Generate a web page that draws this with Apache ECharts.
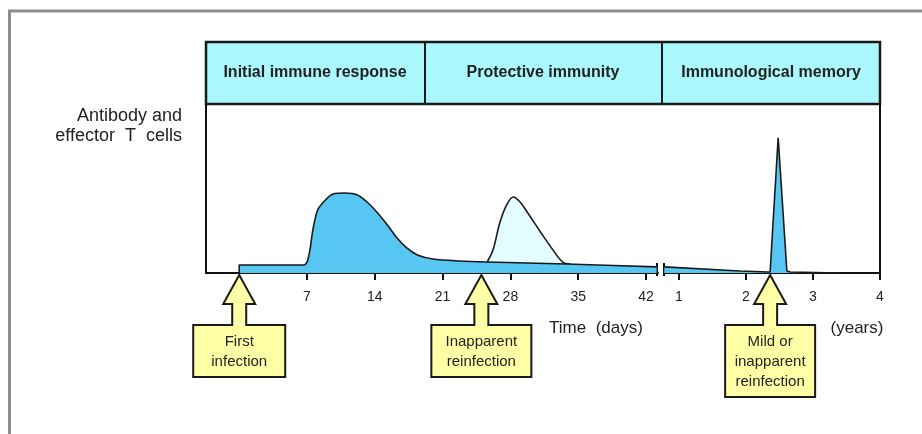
<!DOCTYPE html>
<html>
<head>
<meta charset="utf-8">
<script src="https://cdn.jsdelivr.net/npm/echarts@6/dist/echarts.min.js"></script>
<style>
  html, body { margin: 0; padding: 0; background: #ffffff; }
  #chart { width: 922px; height: 434px; }
</style>
</head>
<body>
<div id="chart"></div>
<script>
// Tick values on the two time scales
const dayTicks = [7, 14, 21, 28, 35, 42];
const yearTicks = [1, 2, 3, 4];

// Primary response (days after first infection) – relative level of antibody / effector T cells
const primaryDays  = [0, 0, 6.6, 7.0, 7.3, 7.6, 8.1, 8.9, 9.7, 10.9, 12.2, 13.2, 14.2, 15.3, 16.3, 17.3, 18.4, 20.0, 22.8, 25.6, 33.8, 43.1];
const primaryLevel = [0, 4.7, 4.7, 6.5, 13.6, 25.4, 37.3, 43.2, 46.7, 47.3, 46.2, 42.0, 36.1, 28.4, 20.7, 14.8, 10.7, 8.3, 7.1, 6.5, 5.3, 3.6];

// Response to the inapparent reinfection
const secondaryDays  = [25.6, 26.2, 26.9, 27.6, 28.3, 29.0, 29.8, 31.1, 32.4, 33.4, 34.2];
const secondaryLevel = [6.5, 13.6, 29.6, 40.2, 45.0, 42.0, 35.5, 24.3, 13.6, 6.5, 5.3];

// Memory phase (years)
const memoryYears = [0.78, 1.91, 2.33, 2.36, 2.48, 2.61, 2.66, 3.4];
const memoryLevel = [3.6, 1.2, 0.6, 0.6, 80.0, 1.2, 0.6, 0.0];

// Phases along the top band
const phaseNames = ['Initial immune response', 'Protective immunity', 'Immunological memory'];

// Infection events
const dayEvents = [0, 25];
const dayEventLabels = ['First\ninfection', 'Inapparent\nreinfection'];
const yearEvents = [2.36];
const yearEventLabels = ['Mild or\ninapparent\nreinfection'];

// ---- styling ----
const FONT = '"Liberation Sans", Arial, Helvetica, sans-serif';
const TEXT = '#222222';
const BLUE = '#58c6f3';
const PALE = '#e3fcff';
const BAND = '#aaf8fe';
const NOTE = '#ffffa6';
const dayBoxHalf = [46, 50];
const yearBoxHalf = [45];

function eventArrow(labels, halves) {
  return function (params, api) {
    const i = params.dataIndex;
    const p = api.coord([api.value(0), 0]);
    const x = p[0], y = p[1];
    const text = labels[i];
    const n = text.split('\n').length;
    const hw = halves[i];
    const headY = y + 31, boxTop = y + 52, boxH = 20 * n + 12;
    const pts = [
      [x, y + 2], [x + 16, headY], [x + 7, headY], [x + 7, boxTop],
      [x + hw, boxTop], [x + hw, boxTop + boxH], [x - hw, boxTop + boxH], [x - hw, boxTop],
      [x - 7, boxTop], [x - 7, headY], [x - 16, headY]
    ];
    return {
      type: 'group',
      children: [
        { type: 'polygon', shape: { points: pts }, style: { fill: NOTE, stroke: '#1a1a1a', lineWidth: 2 } },
        { type: 'text', style: { text: text, x: x, y: boxTop + boxH / 2 + 1, align: 'center', verticalAlign: 'middle',
            font: '15px ' + FONT, lineHeight: 20, fill: TEXT } }
      ]
    };
  };
}

const chart = echarts.init(document.getElementById('chart'), null, { renderer: 'canvas' });

const xLine = { show: true, onZero: false, lineStyle: { color: '#111', width: 2 } };
const yLine = { show: true, onZero: false, lineStyle: { color: '#111', width: 2 } };

chart.setOption({
  backgroundColor: '#ffffff',
  animation: false,
  grid: [
    { left: 206, top: 104, width: 452, height: 169 },
    { left: 664, top: 104, width: 216, height: 169 }
  ],
  xAxis: [
    { gridIndex: 0, type: 'value', min: -3.43, max: 43.24, axisLine: xLine, splitLine: { show: false },
      axisTick: { show: true, length: 7, customValues: dayTicks, lineStyle: { color: '#111', width: 2 } },
      axisLabel: { customValues: dayTicks, margin: 17, fontSize: 14, fontFamily: FONT, color: TEXT } },
    { gridIndex: 1, type: 'value', min: 0.776, max: 4, axisLine: xLine, splitLine: { show: false },
      axisTick: { show: true, length: 7, customValues: yearTicks, lineStyle: { color: '#111', width: 2 } },
      axisLabel: { customValues: yearTicks, margin: 17, fontSize: 14, fontFamily: FONT, color: TEXT } }
  ],
  yAxis: [
    { gridIndex: 0, type: 'value', min: 0, max: 100, axisLine: yLine, axisTick: { show: false },
      axisLabel: { show: false }, splitLine: { show: false } },
    { gridIndex: 1, type: 'value', min: 0, max: 100, position: 'right', axisLine: yLine, axisTick: { show: false },
      axisLabel: { show: false }, splitLine: { show: false } }
  ],
  series: [
    { type: 'line', xAxisIndex: 0, yAxisIndex: 0, z: 2, symbol: 'none', smooth: 0.35,
      data: secondaryDays.map((d, i) => [d, secondaryLevel[i]]),
      lineStyle: { color: '#1a1a1a', width: 1.6 }, areaStyle: { color: PALE, opacity: 1 } },
    { type: 'line', xAxisIndex: 0, yAxisIndex: 0, z: 3, symbol: 'none', smooth: 0.3,
      data: primaryDays.map((d, i) => [d, primaryLevel[i]]),
      lineStyle: { color: '#1a1a1a', width: 1.6 }, areaStyle: { color: BLUE, opacity: 1 } },
    { type: 'line', xAxisIndex: 1, yAxisIndex: 1, z: 3, symbol: 'none', smooth: false,
      data: memoryYears.map((d, i) => [d, memoryLevel[i]]),
      lineStyle: { color: '#1a1a1a', width: 1.6 }, areaStyle: { color: BLUE, opacity: 1 } },
    { type: 'custom', xAxisIndex: 0, yAxisIndex: 0, z: 10, clip: false,
      renderItem: eventArrow(dayEventLabels, dayBoxHalf), data: dayEvents.map(d => [d, 0]) },
    { type: 'custom', xAxisIndex: 1, yAxisIndex: 1, z: 10, clip: false,
      renderItem: eventArrow(yearEventLabels, yearBoxHalf), data: yearEvents.map(d => [d, 0]) }
  ],
  graphic: [
    // page frame
    { type: 'line', shape: { x1: 8, y1: 11, x2: 922, y2: 11 }, style: { stroke: '#8c8c8c', lineWidth: 3 } },
    { type: 'line', shape: { x1: 9.5, y1: 10, x2: 9.5, y2: 434 }, style: { stroke: '#8c8c8c', lineWidth: 3 } },
    // phase band
    { type: 'rect', shape: { x: 206, y: 42, width: 674, height: 62 }, style: { fill: BAND, stroke: '#1a1a1a', lineWidth: 2.5 } },
    { type: 'line', shape: { x1: 425, y1: 42, x2: 425, y2: 104 }, style: { stroke: '#1a1a1a', lineWidth: 2 } },
    { type: 'line', shape: { x1: 662, y1: 42, x2: 662, y2: 104 }, style: { stroke: '#1a1a1a', lineWidth: 2 } },
    { type: 'text', style: { text: phaseNames[0], x: 315, y: 73, align: 'center', verticalAlign: 'middle', font: 'bold 16px ' + FONT, fill: TEXT } },
    { type: 'text', style: { text: phaseNames[1], x: 543, y: 73, align: 'center', verticalAlign: 'middle', font: 'bold 16px ' + FONT, fill: TEXT } },
    { type: 'text', style: { text: phaseNames[2], x: 771, y: 73, align: 'center', verticalAlign: 'middle', font: 'bold 16px ' + FONT, fill: TEXT } },
    // axis break marks
    { type: 'line', shape: { x1: 657, y1: 263, x2: 657, y2: 276 }, style: { stroke: '#111', lineWidth: 2 } },
    { type: 'line', shape: { x1: 664, y1: 263, x2: 664, y2: 276 }, style: { stroke: '#111', lineWidth: 2 } },
    // axis titles
    { type: 'text', style: { text: 'Antibody and\neffector  T  cells', x: 182, y: 106, align: 'right', verticalAlign: 'top', font: '18px ' + FONT, lineHeight: 20, fill: TEXT } },
    { type: 'text', style: { text: 'Time  (days)', x: 596, y: 328, align: 'center', verticalAlign: 'middle', font: '17px ' + FONT, fill: TEXT } },
    { type: 'text', style: { text: '(years)', x: 857, y: 328, align: 'center', verticalAlign: 'middle', font: '17px ' + FONT, fill: TEXT } }
  ]
});
</script>
</body>
</html>
